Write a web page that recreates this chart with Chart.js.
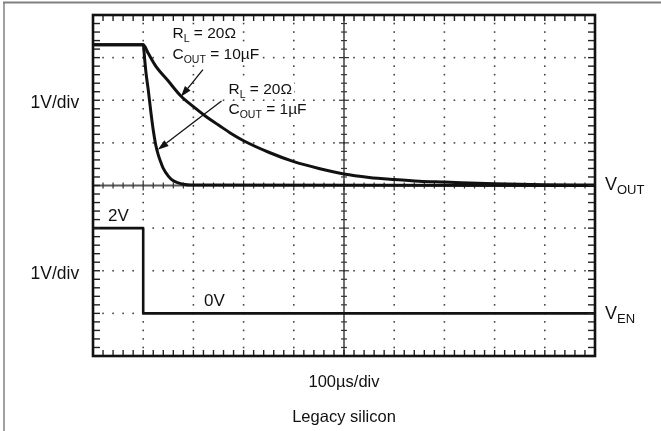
<!DOCTYPE html>
<html>
<head>
<meta charset="utf-8">
<title>Legacy silicon – turn-off transient</title>
<script src="https://cdn.jsdelivr.net/npm/chart.js@4/dist/chart.umd.min.js"></script>
<style>
  html, body { margin: 0; padding: 0; background: #fff; }
  canvas { display: block; }
</style>
</head>
<body>
<canvas id="scope" width="661" height="431"></canvas>
<script>
// ---- Captured traces (time in µs, voltage in V) ----
// Output voltage, RL = 20 Ω, COUT = 10 µF
const timeOut10 = [0, 100, 110, 125, 150, 175, 200, 225, 250, 275, 300, 350, 400, 450, 500, 550, 600, 650, 700, 800, 900, 1000];
const voltOut10 = [3.30, 3.30, 3.10, 2.80, 2.45, 2.10, 1.85, 1.62, 1.42, 1.22, 1.05, 0.78, 0.56, 0.40, 0.27, 0.19, 0.14, 0.10, 0.08, 0.04, 0.02, 0.01];

// Output voltage, RL = 20 Ω, COUT = 1 µF
const timeOut1 = [0, 100, 103, 106, 110, 115, 120, 125, 130, 135, 140, 150, 160, 170, 180, 195, 1000];
const voltOut1 = [3.30, 3.30, 2.95, 2.60, 2.25, 1.75, 1.30, 0.95, 0.72, 0.55, 0.40, 0.22, 0.11, 0.06, 0.03, 0.01, 0.00];

// Enable input
const timeEn = [0, 100, 100, 1000];
const voltEn = [2, 2, 0, 0];

// Screen settings: 10 horizontal divisions, 8 vertical divisions
const TIME_PER_DIV = 100;    // µs/div
const VOLT_PER_DIV = 1;      // V/div
const H_DIVS = 10;
const V_DIVS = 8;
const OUT_ZERO_DIV = 4;      // VOUT ground reference (centre line)
const EN_ZERO_DIV = 1;       // VEN ground reference

const toPoints = (ts, vs, zero) => ts.map((t, i) => ({ x: t, y: zero + vs[i] / VOLT_PER_DIV }));

const FONT = '"Liberation Sans", Arial, Helvetica, sans-serif';

// Draws a run of text pieces (main text and subscripts); optional white backing box
function drawSubText(ctx, x, y, parts, backing) {
  let w = 0;
  for (const [txt, size] of parts) {
    ctx.font = size + 'px ' + FONT;
    w += ctx.measureText(txt).width;
  }
  if (backing) {
    const size = parts[0][1];
    ctx.fillStyle = '#fff';
    ctx.fillRect(x - 2, y - size * 0.8, w + 4, size * 1.15);
  }
  ctx.fillStyle = '#111';
  let cx = x;
  for (const [txt, size, dy] of parts) {
    ctx.font = size + 'px ' + FONT;
    ctx.fillText(txt, cx, y + dy);
    cx += ctx.measureText(txt).width;
  }
}

function arrow(ctx, x1, y1, x2, y2) {
  const ang = Math.atan2(y2 - y1, x2 - x1);
  const len = 11, hw = 3.6;
  const bx = x2 - len * Math.cos(ang), by = y2 - len * Math.sin(ang);
  ctx.beginPath();
  ctx.moveTo(x1, y1);
  ctx.lineTo(bx, by);
  ctx.lineWidth = 1.3;
  ctx.strokeStyle = '#111';
  ctx.stroke();
  ctx.beginPath();
  ctx.moveTo(x2, y2);
  ctx.lineTo(bx - hw * Math.sin(ang), by + hw * Math.cos(ang));
  ctx.lineTo(bx + hw * Math.sin(ang), by - hw * Math.cos(ang));
  ctx.closePath();
  ctx.fillStyle = '#111';
  ctx.fill();
}

const scopeScreen = {
  id: 'scopeScreen',
  beforeDatasetsDraw(chart) {
    const { ctx, chartArea: a, scales: { x, y } } = chart;
    ctx.save();
    // outer page frame
    ctx.strokeStyle = '#808080';
    ctx.lineWidth = 2;
    ctx.beginPath(); ctx.moveTo(3, 2.5); ctx.lineTo(661, 2.5); ctx.stroke();
    ctx.lineWidth = 1.5;
    ctx.beginPath(); ctx.moveTo(4, 2); ctx.lineTo(4, 431); ctx.stroke();

    // dotted graticule
    ctx.fillStyle = '#444';
    const tMax = H_DIVS * TIME_PER_DIV;
    for (let k = 1; k < H_DIVS; k++) {
      if (k === H_DIVS / 2) continue;
      const px = x.getPixelForValue(k * TIME_PER_DIV);
      for (let j = 1; j < V_DIVS * 5; j++) {
        const py = y.getPixelForValue(j / 5);
        ctx.fillRect(px - 0.8, py - 0.8, 1.6, 1.6);
      }
    }
    for (let k = 1; k < V_DIVS; k++) {
      if (k === V_DIVS / 2) continue;
      const py = y.getPixelForValue(k);
      for (let j = 1; j < H_DIVS * 5; j++) {
        const px = x.getPixelForValue(j * TIME_PER_DIV / 5);
        ctx.fillRect(px - 0.8, py - 0.8, 1.6, 1.6);
      }
    }

    // centre horizontal axis with minor ticks
    const cy = y.getPixelForValue(V_DIVS / 2);
    ctx.strokeStyle = '#5a5a5a';
    ctx.lineWidth = 2;
    ctx.beginPath(); ctx.moveTo(a.left, cy); ctx.lineTo(a.right, cy); ctx.stroke();
    ctx.lineWidth = 1.2;
    ctx.strokeStyle = '#333';
    for (let j = 1; j < H_DIVS * 5; j++) {
      const px = x.getPixelForValue(j * TIME_PER_DIV / 5);
      const h = (j % 5 === 0) ? 5 : 3;
      ctx.beginPath(); ctx.moveTo(px, cy - h); ctx.lineTo(px, cy + h); ctx.stroke();
    }

    // centre vertical axis with minor ticks
    const cx = x.getPixelForValue(tMax / 2);
    ctx.strokeStyle = '#333';
    ctx.lineWidth = 1.4;
    ctx.beginPath(); ctx.moveTo(cx, a.top); ctx.lineTo(cx, a.bottom); ctx.stroke();
    ctx.lineWidth = 1.2;
    for (let j = 1; j < V_DIVS * 5; j++) {
      const py = y.getPixelForValue(j / 5);
      const h = (j % 5 === 0) ? 5 : 3;
      ctx.beginPath(); ctx.moveTo(cx - h, py); ctx.lineTo(cx + h, py); ctx.stroke();
    }

    // trace annotations sit on white patches over the graticule
    drawSubText(ctx, 172.5, 37.5, [['R', 15.5, 0], ['L', 10.5, 4], [' = 20Ω', 15.5, 0]], true);
    drawSubText(ctx, 172.5, 58.5, [['C', 15.5, 0], ['OUT', 10.5, 4], [' = 10µF', 15.5, 0]], true);
    drawSubText(ctx, 228.5, 93.5, [['R', 15.5, 0], ['L', 10.5, 4], [' = 20Ω', 15.5, 0]], true);
    drawSubText(ctx, 228.5, 113.5, [['C', 15.5, 0], ['OUT', 10.5, 4], [' = 1µF', 15.5, 0]], true);
    ctx.restore();
  },
  afterDatasetsDraw(chart) {
    const { ctx, chartArea: a, scales: { x, y } } = chart;
    ctx.save();
    // bezel ticks on all four edges
    ctx.strokeStyle = '#222';
    ctx.lineWidth = 1.4;
    for (let j = 1; j < H_DIVS * 5; j++) {
      const px = x.getPixelForValue(j * TIME_PER_DIV / 5);
      ctx.beginPath(); ctx.moveTo(px, a.top); ctx.lineTo(px, a.top + 6); ctx.stroke();
      ctx.beginPath(); ctx.moveTo(px, a.bottom); ctx.lineTo(px, a.bottom - 6); ctx.stroke();
    }
    for (let j = 1; j < V_DIVS * 5; j++) {
      const py = y.getPixelForValue(j / 5);
      ctx.beginPath(); ctx.moveTo(a.left, py); ctx.lineTo(a.left + 7, py); ctx.stroke();
      ctx.beginPath(); ctx.moveTo(a.right, py); ctx.lineTo(a.right - 7, py); ctx.stroke();
    }
    // bezel frame
    ctx.strokeStyle = '#111';
    ctx.lineWidth = 2.6;
    ctx.strokeRect(a.left, a.top, a.right - a.left, a.bottom - a.top);

    // arrows from the annotations to their traces
    const P = (t, d) => [x.getPixelForValue(t), y.getPixelForValue(d)];
    arrow(ctx, ...P(219, 6.72), ...P(175, 6.08));
    arrow(ctx, ...P(256, 5.98), ...P(129, 4.84));

    ctx.textBaseline = 'alphabetic';
    drawSubText(ctx, 108, 221, [['2V', 17, 0]]);
    drawSubText(ctx, 204, 306, [['0V', 17, 0]]);

    // channel labels to the right of the screen
    drawSubText(ctx, 605, 189.5, [['V', 18, 0], ['OUT', 13, 4.5]]);
    drawSubText(ctx, 605, 318.5, [['V', 18, 0], ['EN', 13, 4.5]]);

    // vertical scale labels
    drawSubText(ctx, 30.5, 107.5, [['1V/div', 17.5, 0]]);
    drawSubText(ctx, 30.5, 279, [['1V/div', 17.5, 0]]);

    // horizontal scale and caption, centred under the screen
    ctx.fillStyle = '#111';
    ctx.textAlign = 'center';
    const mid = x.getPixelForValue(H_DIVS * TIME_PER_DIV / 2);
    ctx.font = '16.5px ' + FONT;
    ctx.fillText('100µs/div', mid, 387);
    ctx.font = '16.5px ' + FONT;
    ctx.fillText('Legacy silicon', mid, 422);
    ctx.restore();
  }
};

new Chart(document.getElementById('scope'), {
  type: 'line',
  data: {
    datasets: [
      { label: 'VOUT (COUT = 10µF)', data: toPoints(timeOut10, voltOut10, OUT_ZERO_DIV),
        borderColor: '#111', borderWidth: 3, cubicInterpolationMode: 'monotone' },
      { label: 'VOUT (COUT = 1µF)', data: toPoints(timeOut1, voltOut1, OUT_ZERO_DIV),
        borderColor: '#111', borderWidth: 3, cubicInterpolationMode: 'monotone' },
      { label: 'VEN', data: toPoints(timeEn, voltEn, EN_ZERO_DIV),
        borderColor: '#111', borderWidth: 2.6, tension: 0 }
    ]
  },
  options: {
    responsive: false,
    animation: false,
    events: [],
    layout: { padding: { left: 93, right: 66, top: 15, bottom: 75 } },
    elements: { point: { radius: 0 }, line: { fill: false, borderJoinStyle: 'round' } },
    plugins: { legend: { display: false }, tooltip: { enabled: false } },
    scales: {
      x: { type: 'linear', min: 0, max: H_DIVS * TIME_PER_DIV, display: false },
      y: { type: 'linear', min: 0, max: V_DIVS, display: false }
    }
  },
  plugins: [scopeScreen]
});
</script>
</body>
</html>
